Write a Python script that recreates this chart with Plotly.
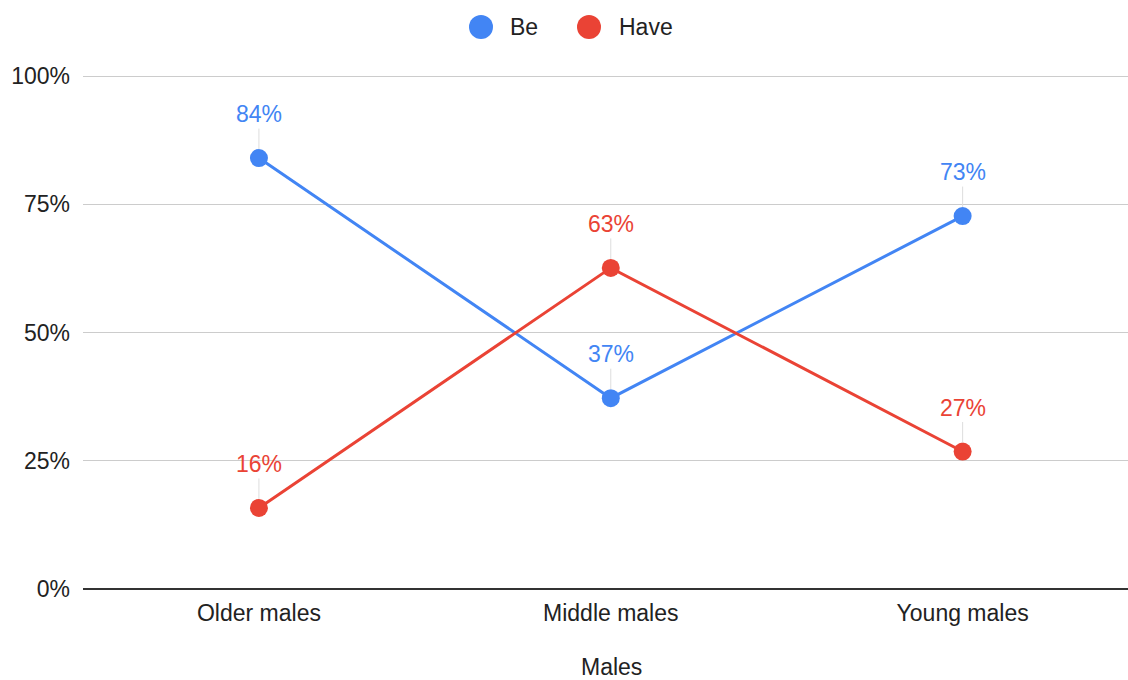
import plotly.graph_objects as go

categories = ["Older males", "Middle males", "Young males"]
be_values = [0.84, 0.372, 0.727]
have_values = [0.158, 0.626, 0.268]
y_ticks = [0, 0.25, 0.5, 0.75, 1.0]
y_tick_labels = ["0%", "25%", "50%", "75%", "100%"]
x_title = "Males"
series = [("Be", be_values), ("Have", have_values)]

COLORS = {"Be": "#4285F4", "Have": "#EA4335"}
FONT = "Liberation Sans, Arial, sans-serif"
FS = 23

fig = go.Figure()
for name, vals in series:
    col = COLORS[name]
    fig.add_trace(go.Scatter(
        x=categories, y=vals, name=name, mode="lines+markers",
        line=dict(color=col, width=3),
        marker=dict(color=col, size=18),
        showlegend=False,
    ))
    for c, v in zip(categories, vals):
        fig.add_annotation(
            x=c, y=v, text=f"{round(v*100)}%", showarrow=True,
            ax=0, ay=-44, arrowhead=0, arrowwidth=1, arrowcolor="#dddddd",
            standoff=9, startstandoff=0,
            font=dict(color=col, size=FS, family=FONT),
        )

# legend drawn in paper space (circle swatch + label)
legend_x = {"Be": (481, 508), "Have": (589, 617)}
W, H = 1128, 680
for name, _ in series:
    cx, tx = legend_x[name]
    cy = 27
    r = 12
    fig.add_shape(type="circle", xref="paper", yref="paper",
                  x0=(cx - r - 83) / (W - 83), x1=(cx + r - 83) / (W - 83),
                  y0=(589 - (cy + r)) / 514, y1=(589 - (cy - r)) / 514,
                  fillcolor=COLORS[name], line=dict(width=0))
    fig.add_annotation(xref="paper", yref="paper",
                       x=(tx - 83) / (W - 83), y=(589 - cy) / 514,
                       xanchor="left", yanchor="middle", showarrow=False,
                       text=name, font=dict(size=FS, family=FONT, color="#222222"))

# x-axis title
fig.add_annotation(xref="paper", yref="paper", x=(611 - 83) / (W - 83),
                   y=(589 - 667) / 514, xanchor="center", yanchor="middle",
                   showarrow=False, text=x_title,
                   font=dict(size=FS, family=FONT, color="#222222"))

fig.update_layout(
    width=W, height=H,
    margin=dict(l=83, r=0, t=75, b=91),
    plot_bgcolor="white", paper_bgcolor="white",
    font=dict(family=FONT, size=FS, color="#222222"),
    showlegend=False,
    xaxis=dict(type="category", range=[-0.5, 2.47], showgrid=False,
               showline=False, zeroline=False, ticks="", automargin=False,
               ticklabelstandoff=8,
               tickfont=dict(size=FS)),
    yaxis=dict(range=[0, 1.002], tickvals=y_ticks, ticktext=y_tick_labels,
               showgrid=True, gridcolor="#cccccc", gridwidth=1,
               zeroline=True, zerolinecolor="#333333", zerolinewidth=2,
               showline=False, ticks="", ticklabelstandoff=12, automargin=False,
               tickfont=dict(size=FS)),
)

fig.write_html("out.html")
